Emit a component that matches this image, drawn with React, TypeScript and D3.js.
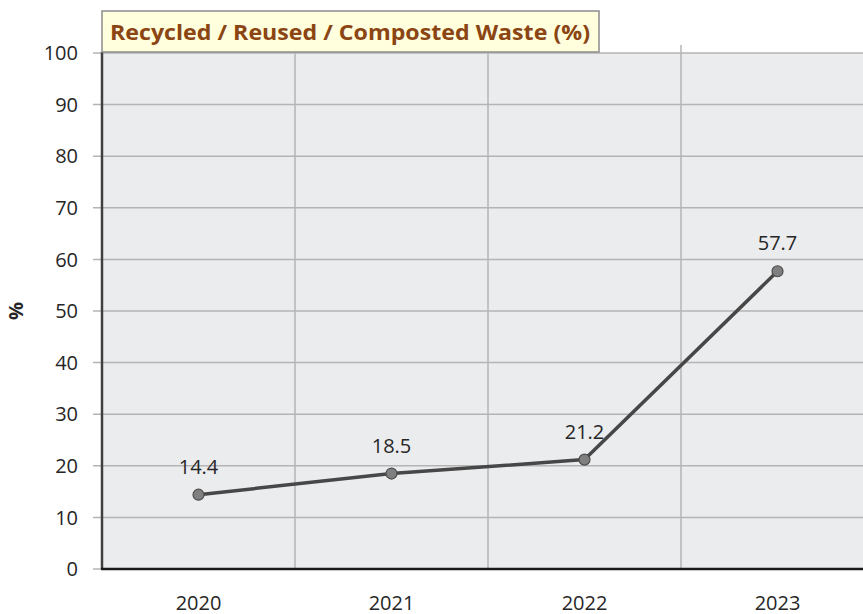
import * as d3 from "d3";
import React, { useRef, useEffect } from "react";

const years = ["2020", "2021", "2022", "2023"];
const values = [14.4, 18.5, 21.2, 57.7];
const yTicks = [0, 10, 20, 30, 40, 50, 60, 70, 80, 90, 100];
const title = "Recycled / Reused / Composted Waste (%)";
const yLabel = "%";

const width = 863;
const height = 614;
const margin = { top: 53, right: -11, bottom: 45, left: 102 };
const font = "'Open Sans', sans-serif";

function Chart() {
  const ref = useRef(null);

  useEffect(() => {
    const svg = d3.select(ref.current);
    svg.selectAll("*").remove();

    const x = d3
      .scaleBand()
      .domain(years)
      .range([margin.left, width - margin.right]);
    const y = d3
      .scaleLinear()
      .domain([0, 100])
      .range([height - margin.bottom, margin.top]);

    // plot background
    svg
      .append("rect")
      .attr("x", margin.left)
      .attr("y", margin.top)
      .attr("width", width - margin.right - margin.left)
      .attr("height", y(0) - y(100))
      .attr("fill", "#ebecee");

    // horizontal grid
    svg
      .append("g")
      .selectAll("line")
      .data(yTicks)
      .join("line")
      .attr("x1", margin.left - 9)
      .attr("x2", width)
      .attr("y1", (d) => y(d))
      .attr("y2", (d) => y(d))
      .attr("stroke", "#b4b4b4")
      .attr("stroke-width", 1.5);

    // vertical grid between categories
    svg
      .append("g")
      .selectAll("line")
      .data(years.slice(1))
      .join("line")
      .attr("x1", (d) => x(d)!)
      .attr("x2", (d) => x(d)!)
      .attr("y1", margin.top - 8)
      .attr("y2", y(0))
      .attr("stroke", "#b4b4b4")
      .attr("stroke-width", 1.5);

    // y tick labels
    svg
      .append("g")
      .selectAll("text")
      .data(yTicks)
      .join("text")
      .attr("x", 78)
      .attr("y", (d) => y(d))
      .attr("dy", "0.36em")
      .attr("text-anchor", "end")
      .style("font-family", font)
      .style("font-size", "20px")
      .attr("fill", "#262626")
      .text((d) => d);

    // x labels
    svg
      .append("g")
      .selectAll("text")
      .data(years)
      .join("text")
      .attr("x", (d) => x(d)! + x.bandwidth() / 2)
      .attr("y", 610)
      .attr("text-anchor", "middle")
      .style("font-family", font)
      .style("font-size", "20px")
      .attr("fill", "#262626")
      .text((d) => d);

    // axes lines
    svg
      .append("line")
      .attr("x1", margin.left)
      .attr("x2", margin.left)
      .attr("y1", y(100) - 1)
      .attr("y2", y(0))
      .attr("stroke", "#404040")
      .attr("stroke-width", 2.5);
    svg
      .append("line")
      .attr("x1", margin.left - 1)
      .attr("x2", width)
      .attr("y1", y(0))
      .attr("y2", y(0))
      .attr("stroke", "#1a1a1a")
      .attr("stroke-width", 2.5);

    // y axis title
    svg
      .append("text")
      .attr("transform", `translate(23, ${(y(0) + y(100)) / 2}) rotate(-90)`)
      .attr("text-anchor", "middle")
      .style("font-family", font)
      .style("font-size", "20px")
      .style("font-weight", "bold")
      .attr("fill", "#262626")
      .text(yLabel);

    // line
    const pts = years.map((yr, i) => [x(yr)! + x.bandwidth() / 2, y(values[i])] as [number, number]);
    svg
      .append("path")
      .datum(pts)
      .attr("d", d3.line())
      .attr("fill", "none")
      .attr("stroke", "#474747")
      .attr("stroke-width", 3.5)
      .attr("stroke-linejoin", "round");

    svg
      .append("g")
      .selectAll("circle")
      .data(pts)
      .join("circle")
      .attr("cx", (d) => d[0])
      .attr("cy", (d) => d[1])
      .attr("r", 5.5)
      .attr("fill", "#7f7f7f")
      .attr("stroke", "#4d4d4d")
      .attr("stroke-width", 1.2);

    // data labels
    svg
      .append("g")
      .selectAll("text")
      .data(pts)
      .join("text")
      .attr("x", (d) => d[0])
      .attr("y", (d) => d[1] - 21)
      .attr("text-anchor", "middle")
      .style("font-family", font)
      .style("font-size", "20px")
      .attr("fill", "#262626")
      .text((d, i) => values[i]);

    // title box
    svg
      .append("rect")
      .attr("x", 102)
      .attr("y", 11)
      .attr("width", 497)
      .attr("height", 41)
      .attr("fill", "#fffedd")
      .attr("stroke", "#8c8c8c")
      .attr("stroke-width", 1.5);
    svg
      .append("text")
      .attr("x", 350)
      .attr("y", 40)
      .attr("text-anchor", "middle")
      .style("font-family", font)
      .style("font-size", "22px")
      .style("font-weight", "bold")
      .attr("textLength", 480)
      .attr("lengthAdjust", "spacingAndGlyphs")
      .attr("fill", "#8b4513")
      .text(title);
  }, []);

  return (
    <svg
      ref={ref}
      width={width}
      height={height}
      style={{ position: "absolute", left: 0, top: 0, background: "#fff" }}
    ></svg>
  );
}

export default function App() {
  return <Chart />;
}
